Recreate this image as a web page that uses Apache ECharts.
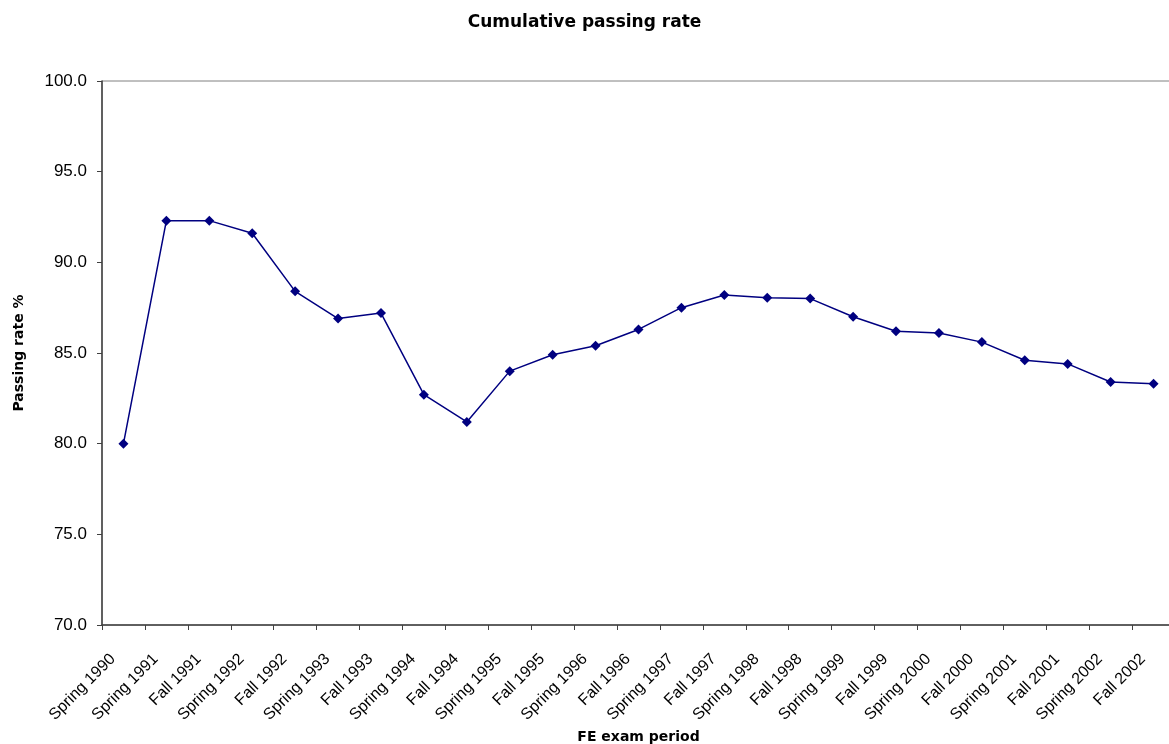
<!DOCTYPE html>
<html>
<head>
    <meta charset="utf-8">
    <title>Cumulative passing rate</title>
    <script src="https://cdn.jsdelivr.net/npm/echarts@6/dist/echarts.min.js"></script>
    <style type="text/css">
        * {
            margin: 0px;
            padding: 0px;
        }

        #main {
            position: absolute;
            width: 1169px;
            height: 744px;
            background: #fff;
        }
    </style>
</head>
<body>
<div id="main"></div>
<script type="text/javascript">
    // exam periods (x axis)
    var periods = ['Spring 1990', 'Spring 1991', 'Fall 1991', 'Spring 1992', 'Fall 1992',
        'Spring 1993', 'Fall 1993', 'Spring 1994', 'Fall 1994', 'Spring 1995', 'Fall 1995',
        'Spring 1996', 'Fall 1996', 'Spring 1997', 'Fall 1997', 'Spring 1998', 'Fall 1998',
        'Spring 1999', 'Fall 1999', 'Spring 2000', 'Fall 2000', 'Spring 2001', 'Fall 2001',
        'Spring 2002', 'Fall 2002'];

    // cumulative passing rate, %
    var passingRate = [80.0, 92.3, 92.3, 91.6, 88.4, 86.9, 87.2, 82.7, 81.2, 84.0, 84.9,
        85.4, 86.3, 87.5, 88.2, 88.05, 88.0, 87.0, 86.2, 86.1, 85.6, 84.6, 84.4, 83.4, 83.3];

    // y axis range
    var yMin = 70;
    var yMax = 100;
    var yStep = 5;

    var chart = echarts.init(document.getElementById('main'));

    // bold headings look letter-spaced in the original, DejaVu is a bit wider
    var headFont = 'DejaVu Sans';

    var option = {
        backgroundColor: '#ffffff',
        animation: false,
        title: {
            text: 'Cumulative passing rate',
            left: 'center',
            top: 9,
            textStyle: {
                fontFamily: headFont,
                fontSize: 17,
                fontWeight: 'bold',
                color: '#000'
            }
        },
        grid: {
            left: 102,
            top: 81,
            width: 1073,
            height: 544,
            outerBoundsMode: 'none',
            containLabel: false,
            show: true,
            borderColor: '#808080',
            borderWidth: 1
        },
        xAxis: {
            type: 'category',
            data: periods,
            boundaryGap: true,
            name: 'FE exam period',
            nameLocation: 'middle',
            nameGap: 102,
            nameTextStyle: {
                fontFamily: headFont,
                fontSize: 14,
                fontWeight: 'bold',
                color: '#000'
            },
            axisLine: {lineStyle: {color: '#404040', width: 1.5}},
            axisTick: {show: true, length: 5, lineStyle: {color: '#404040'}},
            axisLabel: {
                interval: 0,
                rotate: 45,
                margin: 21,
                padding: [0, 15, 0, 0],
                fontFamily: 'Liberation Sans',
                fontSize: 16,
                color: '#000'
            },
            splitLine: {show: false}
        },
        yAxis: {
            type: 'value',
            min: yMin,
            max: yMax,
            interval: yStep,
            name: 'Passing rate %',
            nameLocation: 'middle',
            nameGap: 76,
            nameTextStyle: {
                fontFamily: headFont,
                fontSize: 14,
                fontWeight: 'bold',
                color: '#000'
            },
            axisLine: {show: true, lineStyle: {color: '#404040', width: 1.5}},
            axisTick: {show: true, length: 5, lineStyle: {color: '#404040'}},
            axisLabel: {
                margin: 15,
                fontFamily: 'Liberation Sans',
                fontSize: 17,
                color: '#000',
                formatter: function (v) {
                    return v.toFixed(1);
                }
            },
            splitLine: {show: false}
        },
        series: [{
            name: 'Passing rate',
            type: 'line',
            data: passingRate,
            symbol: 'diamond',
            symbolSize: 10,
            itemStyle: {color: '#000080'},
            lineStyle: {color: '#000080', width: 1.5}
        }]
    };

    chart.setOption(option);
</script>
</body>
</html>
